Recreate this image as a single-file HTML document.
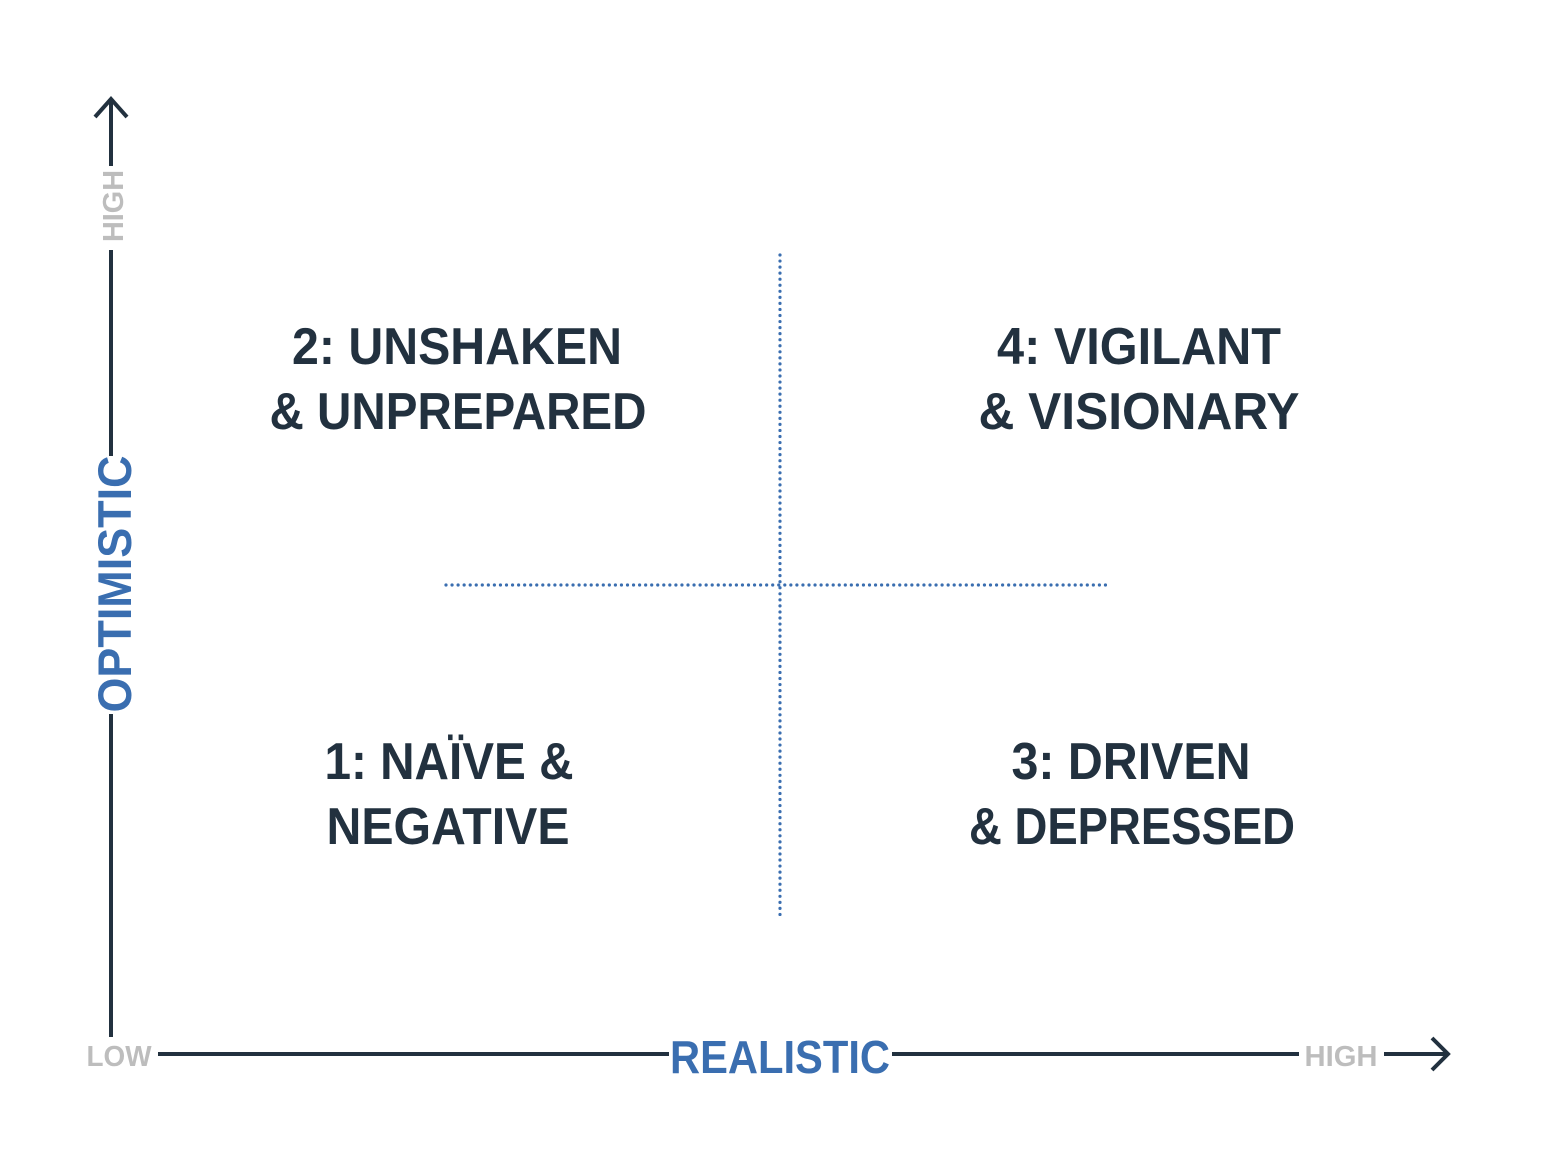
<!DOCTYPE html>
<html><head><meta charset="utf-8"><style>
html,body{margin:0;padding:0;background:#fff;width:1551px;height:1160px;overflow:hidden}
svg{display:block}
text{font-family:"Liberation Sans",sans-serif}
</style></head><body>
<svg width="1551" height="1160" viewBox="0 0 1551 1160" xmlns="http://www.w3.org/2000/svg">
<g stroke="#22313f" stroke-width="4" fill="none" stroke-linecap="butt">
<line x1="111" y1="99" x2="111" y2="166"/>
<line x1="111" y1="250" x2="111" y2="456"/>
<line x1="111" y1="714" x2="111" y2="1037"/>
<polyline points="95,117 111,99 127,117" stroke-linejoin="miter"/>
<line x1="158" y1="1054" x2="669" y2="1054"/>
<line x1="892" y1="1054" x2="1299" y2="1054"/>
<line x1="1384" y1="1054" x2="1447" y2="1054"/>
<polyline points="1432,1038 1448,1054 1432,1070"/>
</g>
<g stroke="#3a6eb0" stroke-width="3.2" stroke-dasharray="0 6.05" stroke-linecap="round" fill="none">
<line x1="780" y1="255" x2="780" y2="917"/>
<line x1="446" y1="585" x2="1110" y2="585"/>
</g>
<g fill="#22313f" font-weight="bold" font-size="52" text-anchor="middle">
<text x="457" y="364" textLength="330" lengthAdjust="spacingAndGlyphs">2: UNSHAKEN</text>
<text x="458" y="429" textLength="377" lengthAdjust="spacingAndGlyphs">&amp; UNPREPARED</text>
<text x="1139" y="364" textLength="284" lengthAdjust="spacingAndGlyphs">4: VIGILANT</text>
<text x="1139" y="429" textLength="321" lengthAdjust="spacingAndGlyphs">&amp; VISIONARY</text>
<text x="449" y="779" textLength="249" lengthAdjust="spacingAndGlyphs">1: NAÏVE &amp;</text>
<text x="448" y="844" textLength="243" lengthAdjust="spacingAndGlyphs">NEGATIVE</text>
<text x="1131" y="779" textLength="239" lengthAdjust="spacingAndGlyphs">3: DRIVEN</text>
<text x="1132" y="844" textLength="326" lengthAdjust="spacingAndGlyphs">&amp; DEPRESSED</text>
</g>
<text x="780" y="1073" fill="#3a6eb0" font-weight="bold" font-size="46" text-anchor="middle" textLength="220" lengthAdjust="spacingAndGlyphs">REALISTIC</text>
<text transform="translate(131,584) rotate(-90)" fill="#3a6eb0" font-weight="bold" font-size="47" text-anchor="middle" textLength="257" lengthAdjust="spacingAndGlyphs">OPTIMISTIC</text>
<text transform="translate(123,206) rotate(-90)" fill="#bdbdbd" font-weight="bold" font-size="29" text-anchor="middle" textLength="72" lengthAdjust="spacingAndGlyphs">HIGH</text>
<text x="119" y="1066" fill="#bdbdbd" font-weight="bold" font-size="29" text-anchor="middle" textLength="65" lengthAdjust="spacingAndGlyphs">LOW</text>
<text x="1341" y="1066" fill="#bdbdbd" font-weight="bold" font-size="29" text-anchor="middle" textLength="73" lengthAdjust="spacingAndGlyphs">HIGH</text>
</svg>
</body></html>
